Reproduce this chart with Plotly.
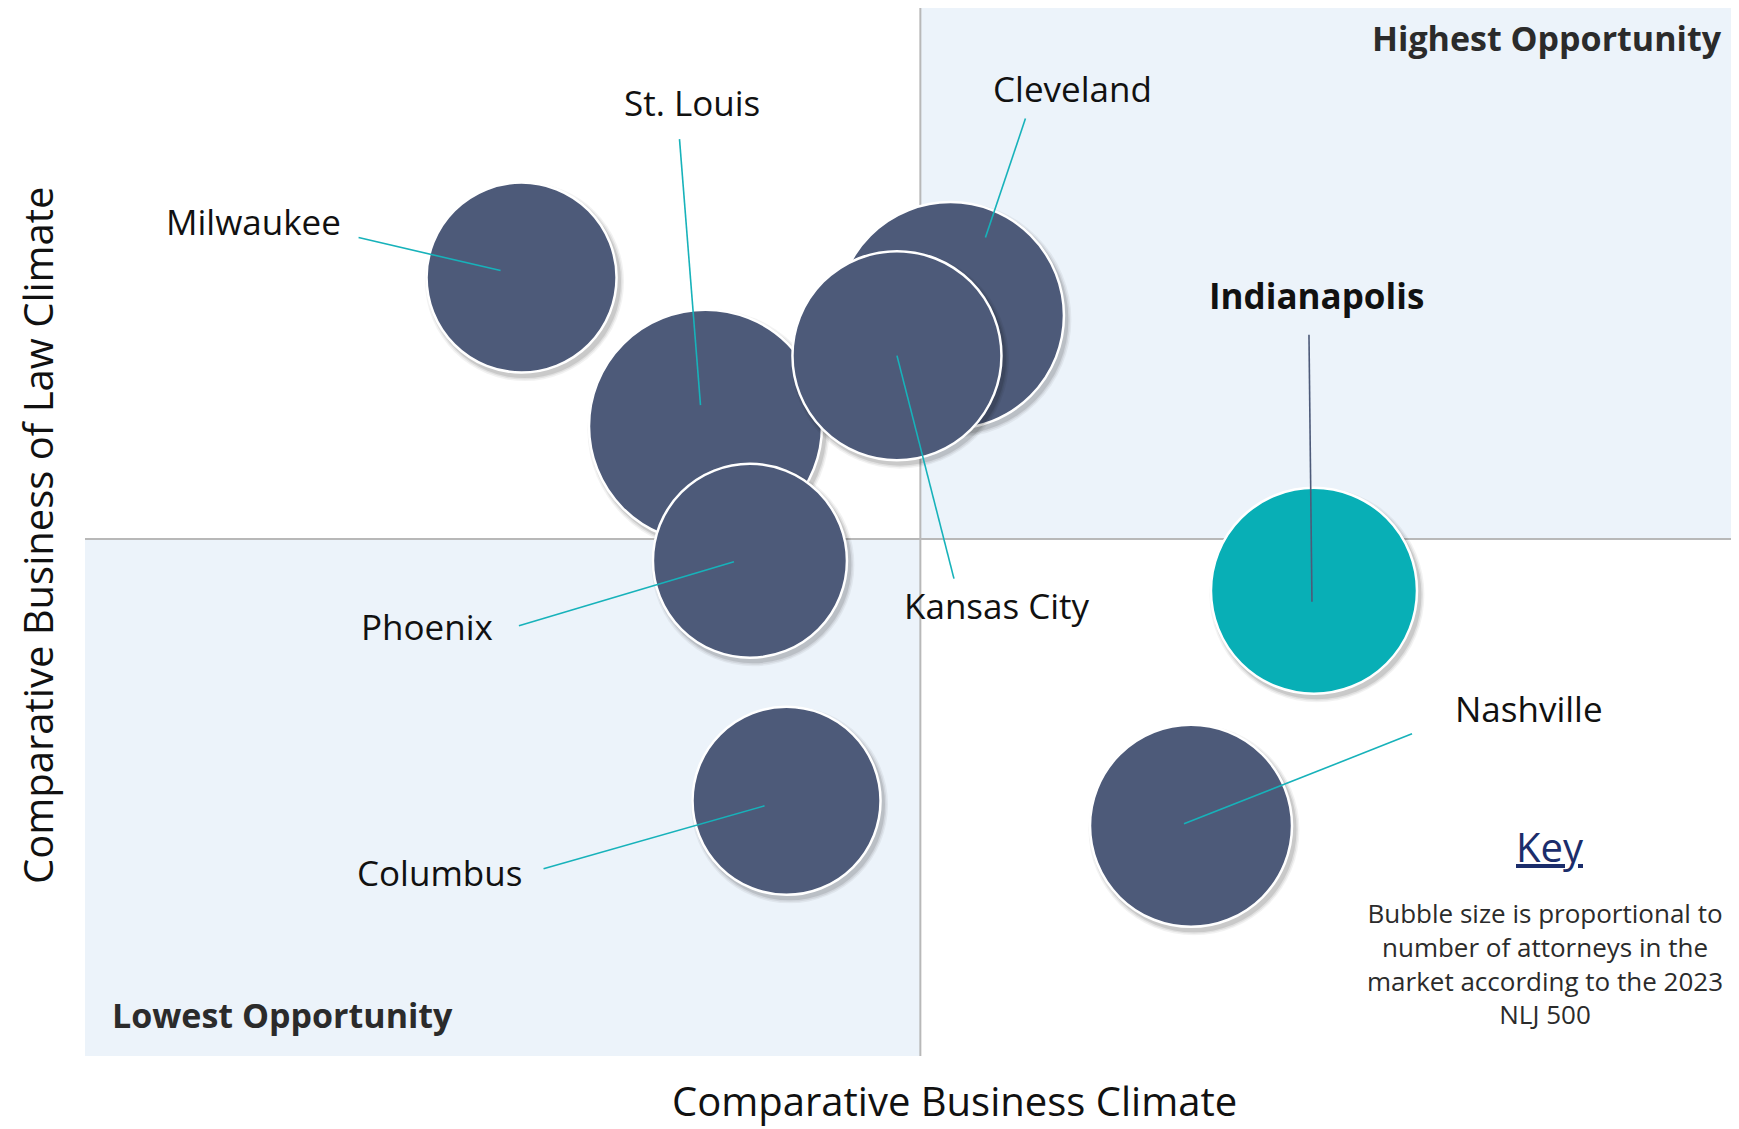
import plotly.graph_objects as go

# ---------------- data ----------------
cities = ["Milwaukee", "St. Louis", "Cleveland", "Kansas City", "Phoenix",
          "Columbus", "Indianapolis", "Nashville"]
business_climate = [26.13, 37.14, 51.80, 48.60, 39.80, 41.99, 73.56, 66.20]
law_climate = [75.29, 60.92, 71.61, 67.74, 47.90, 24.68, 45.00, 22.26]
bubble_size = [190, 233, 227, 209, 194, 188, 206, 202]
highlight = "Indianapolis"

x_title = "Comparative Business Climate"
y_title = "Comparative Business of Law Climate"
top_right_label = "Highest Opportunity"
bottom_left_label = "Lowest Opportunity"
key_title = "Key"
key_text = ("Bubble size is proportional to<br>number of attorneys in the<br>"
            "market according to the 2023<br>NLJ 500")
divider_x = 50
divider_y = 50

# ---------------- layout constants ----------------
OFF = 8  # page body margin of the browser
W, H = 1739 - OFF, 1129 - OFF
ML, MR, MT, MB = 85 - OFF, 0, 0, 73
XR = [0, 99]
YR = [0, 101.75 - 4 * 101.75 / 1052]
PW, PH = W - ML - MR, H - MT - MB
px_x = (XR[1] - XR[0]) / PW
px_y = (YR[1] - YR[0]) / PH


def paper_x(px):
    return (px - OFF - ML) / PW


def paper_y(py):
    return (H - MB - (py - OFF)) / PH


FONT = "'Open Sans', Lato, sans-serif"
NAVY = "#4d5a79"
TEAL = "#08afb6"
LINE_TEAL = "#17b2ba"

# label offsets (pixels, y down) relative to bubble centre
label_off = {
    "Milwaukee": (-268, -56), "St. Louis": (-14, -324), "Cleveland": (122, -227),
    "Kansas City": (100, 250), "Phoenix": (-323, 66), "Columbus": (-347, 72),
    "Indianapolis": (3, -295), "Nashville": (338, -117),
}
# leader lines: start and end offsets (pixels, y down) relative to bubble centre
leader = {
    "Milwaukee": ((-163, -40), (-21, -7)),
    "St. Louis": ((-26, -287), (-5, -21)),
    "Cleveland": ((75, -197), (35, -78)),
    "Kansas City": ((57, 223), (0, 0)),
    "Phoenix": ((-231, 65), (-16, 1)),
    "Columbus": ((-243, 68), (-22, 5)),
    "Indianapolis": ((-5, -256), (-2, 11)),
    "Nashville": ((221, -92), (-7, -2)),
}

draw_order = ["Milwaukee", "St. Louis", "Cleveland", "Kansas City", "Phoenix",
              "Columbus", "Indianapolis", "Nashville"]

fig = go.Figure()

for name in draw_order:
    i = cities.index(name)
    x, y, s = business_climate[i], law_climate[i], bubble_size[i]
    # soft drop shadow layers
    for grow, op in [(9, 0.05), (6, 0.07), (3, 0.10)]:
        fig.add_trace(go.Scatter(
            x=[x + 3 * px_x], y=[y - 4 * px_y], mode="markers",
            marker=dict(size=s + grow, color=f"rgba(0,0,0,{op})", line=dict(width=0)),
            hoverinfo="skip", showlegend=False))
    fig.add_trace(go.Scatter(
        x=[x], y=[y], mode="markers", name=name,
        marker=dict(size=s, color=TEAL if name == highlight else NAVY,
                    line=dict(color="white", width=2.5), opacity=1),
        hoverinfo="skip", showlegend=False))

shapes = []
# quadrant shading
shapes.append(dict(type="rect", xref="x", yref="y", x0=XR[0], x1=divider_x, y0=YR[0], y1=divider_y,
                   fillcolor="#ecf3fa", line=dict(width=0), layer="below"))
shapes.append(dict(type="rect", xref="x", yref="y", x0=divider_x, x1=XR[1], y0=divider_y, y1=YR[1],
                   fillcolor="#ecf3fa", line=dict(width=0), layer="below"))
# divider lines
shapes.append(dict(type="line", xref="x", yref="y", x0=divider_x, x1=divider_x, y0=YR[0], y1=YR[1],
                   line=dict(color="#b8b8b8", width=2), layer="below"))
shapes.append(dict(type="line", xref="x", yref="y", x0=XR[0], x1=XR[1], y0=divider_y, y1=divider_y,
                   line=dict(color="#b8b8b8", width=2), layer="below"))

annotations = []
for i, name in enumerate(cities):
    x, y = business_climate[i], law_climate[i]
    (sx, sy), (ex, ey) = leader[name]
    shapes.append(dict(type="line", xref="x", yref="y",
                       xsizemode="pixel", ysizemode="pixel", xanchor=x, yanchor=y,
                       x0=sx, y0=-sy, x1=ex, y1=-ey,
                       line=dict(color=NAVY if name == highlight else LINE_TEAL, width=1.6),
                       layer="above"))
    dx, dy = label_off[name]
    annotations.append(dict(x=x, y=y, xref="x", yref="y", xshift=dx, yshift=-dy,
                            text=f"<b>{name}</b>" if name == highlight else name,
                            showarrow=False, xanchor="center", yanchor="middle",
                            font=dict(family=FONT, size=35, color="#111111")))

annotations += [
    dict(x=paper_x(1724), y=paper_y(38), xref="paper", yref="paper",
         text=f"<b>{top_right_label}</b>", showarrow=False, xanchor="right", yanchor="middle",
         font=dict(family=FONT, size=34, color="#2b2b2b")),
    dict(x=paper_x(110), y=paper_y(1015), xref="paper", yref="paper",
         text=f"<b>{bottom_left_label}</b>", showarrow=False, xanchor="left", yanchor="middle",
         font=dict(family=FONT, size=34, color="#2b2b2b")),
    dict(x=paper_x(1550), y=paper_y(846), xref="paper", yref="paper",
         text=f"<u>{key_title}</u>", showarrow=False, xanchor="center", yanchor="middle",
         font=dict(family=FONT, size=40, color="#1b2d6b")),
    dict(x=paper_x(1545), y=paper_y(963), xref="paper", yref="paper",
         text=key_text, showarrow=False, xanchor="center", yanchor="middle", align="center",
         font=dict(family=FONT, size=26, color="#2b2b2b")),
    dict(x=paper_x(954), y=paper_y(1129), xref="paper", yref="paper",
         text=x_title, showarrow=False, xanchor="center", yanchor="bottom", borderpad=0,
         font=dict(family=FONT, size=40, color="#111111")),
    dict(x=paper_x(37), y=paper_y(535), xref="paper", yref="paper",
         text=y_title, showarrow=False, xanchor="center", yanchor="middle", textangle=-90,
         borderpad=0, font=dict(family=FONT, size=40, color="#111111")),
]

fig.update_layout(
    width=W, height=H,
    margin=dict(l=ML, r=MR, t=MT, b=MB),
    paper_bgcolor="white", plot_bgcolor="white",
    xaxis=dict(range=XR, visible=False, showgrid=False, zeroline=False, fixedrange=True),
    yaxis=dict(range=YR, visible=False, showgrid=False, zeroline=False, fixedrange=True),
    shapes=shapes, annotations=annotations, showlegend=False,
)

fig.write_html("out.html")
